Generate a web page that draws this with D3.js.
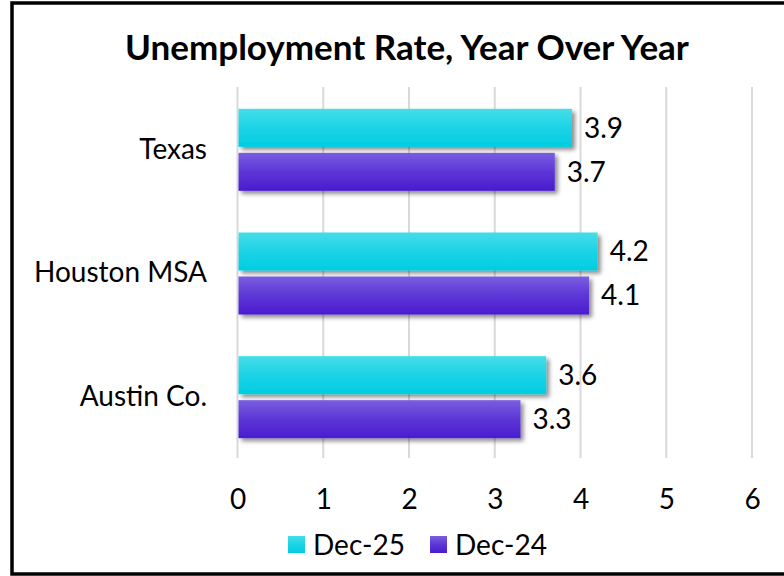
<!DOCTYPE html>
<html><head><meta charset="utf-8">
<script src="https://cdn.jsdelivr.net/npm/d3@7"></script>
<style>body{margin:0;background:#fff;} svg{display:block;}</style>
</head><body>
<svg id="c" width="784" height="576"></svg>
<script>
const categories = ["Texas", "Houston MSA", "Austin Co."];
const seriesNames = ["Dec-25", "Dec-24"];
const dec25 = [3.9, 4.2, 3.6];
const dec24 = [3.7, 4.1, 3.3];
const xTicks = [0, 1, 2, 3, 4, 5, 6];
const title = "Unemployment Rate, Year Over Year";

const font = "Lato, 'Open Sans', sans-serif";
const fs = 28;
const svg = d3.select("#c");
const defs = svg.append("defs");
const grads = [
  {id: "gC", top: "#45dde9", bot: "#00cde2"},
  {id: "gP", top: "#7a5ee0", bot: "#4a1ccf"}
];
grads.forEach(g => {
  const lg = defs.append("linearGradient").attr("id", g.id).attr("x1",0).attr("y1",0).attr("x2",0).attr("y2",1);
  lg.append("stop").attr("offset","0%").attr("stop-color", g.top);
  lg.append("stop").attr("offset","50%").attr("stop-color", d3.interpolateRgb(g.top, g.bot)(0.6));
  lg.append("stop").attr("offset","100%").attr("stop-color", g.bot);
});
const f = defs.append("filter").attr("id","sh").attr("x","-5%").attr("y","-30%").attr("width","115%").attr("height","170%");
f.append("feDropShadow").attr("dx",3).attr("dy",3).attr("stdDeviation",2.2).attr("flood-color","#000").attr("flood-opacity",0.45);

// border
svg.append("rect").attr("x",12).attr("y",3).attr("width",790).attr("height",571)
  .attr("fill","#fff").attr("stroke","#000").attr("stroke-width",3.5);

const x = d3.scaleLinear().domain([0,6]).range([237.5, 752]);
const y = d3.scaleBand().domain(categories).range([88, 459]).paddingInner(0.337).paddingOuter(0.1685);
const yi = d3.scaleBand().domain(seriesNames).range([0, y.bandwidth()]).paddingInner(0.136);

// gridlines
svg.append("g").selectAll("line").data(xTicks).join("line")
  .attr("x1", d=>x(d)).attr("x2", d=>x(d)).attr("y1", 87).attr("y2", 458)
  .attr("stroke", "#d9d9d9").attr("stroke-width", 2);

// x axis labels
const xAxis = d3.axisBottom(x).tickValues(xTicks).tickSize(0).tickPadding(0).tickFormat(d3.format("d"));
const gx = svg.append("g").attr("transform", "translate(0,489)").call(xAxis);
gx.select(".domain").remove();
gx.selectAll("text").attr("font-family", font).attr("font-size", fs).attr("fill","#000").attr("dy","0.71em");

// y axis labels
const yAxis = d3.axisLeft(y).tickSize(0).tickPadding(0);
const gy = svg.append("g").attr("transform", "translate(207,0)").call(yAxis);
gy.select(".domain").remove();
gy.selectAll("text").attr("font-family", font).attr("font-size", fs).attr("fill","#000");

const data = [];
categories.forEach((c,i) => {
  data.push({cat:c, s:"Dec-25", v:dec25[i], g:"gC"});
  data.push({cat:c, s:"Dec-24", v:dec24[i], g:"gP"});
});

svg.append("g").selectAll("rect").data(data).join("rect")
  .attr("x", x(0)+1).attr("y", d => y(d.cat)+yi(d.s))
  .attr("width", d => x(d.v)-x(0)-1).attr("height", yi.bandwidth())
  .attr("fill", d => `url(#${d.g})`).attr("filter","url(#sh)");

svg.append("g").selectAll("text").data(data).join("text")
  .attr("x", d => x(d.v)+12).attr("y", d => y(d.cat)+yi(d.s)+yi.bandwidth()/2)
  .attr("dy","0.35em").attr("font-family", font).attr("font-size", fs).attr("fill","#000")
  .text(d => d.v.toFixed(1));

// title
svg.append("text").attr("x", 407).attr("y", 60).attr("text-anchor","middle")
  .attr("font-family", font).attr("font-weight","bold").attr("font-size", 35).attr("fill","#000")
  .text(title);

// legend
const leg = svg.append("g");
const legItems = [{n:seriesNames[0], g:"gC", x:288}, {n:seriesNames[1], g:"gP", x:430}];
legItems.forEach(it => {
  leg.append("rect").attr("x", it.x).attr("y", 536).attr("width", 17).attr("height", 17).attr("fill", `url(#${it.g})`);
  leg.append("text").attr("x", it.x+25).attr("y", 545).attr("dy","0.35em")
    .attr("font-family", font).attr("font-size", fs).attr("fill","#000").text(it.n);
});
</script>
</body></html>
